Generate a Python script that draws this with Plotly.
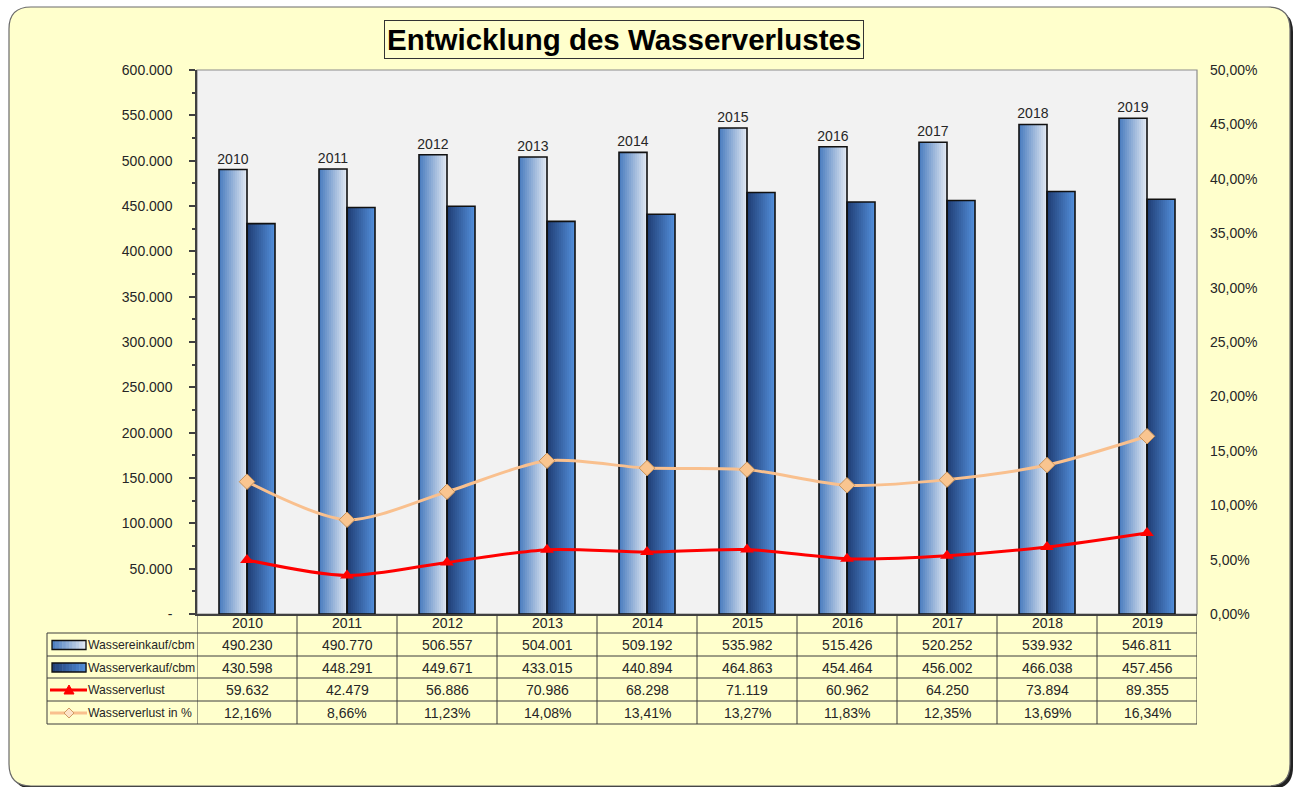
import plotly.graph_objects as go

# ---------------- data ----------------
years = ['2010', '2011', '2012', '2013', '2014', '2015', '2016', '2017', '2018', '2019']
einkauf = [490230, 490770, 506557, 504001, 509192, 535982, 515426, 520252, 539932, 546811]
verkauf = [430598, 448291, 449671, 433015, 440894, 464863, 454464, 456002, 466038, 457456]
verlust = [59632, 42479, 56886, 70986, 68298, 71119, 60962, 64250, 73894, 89355]
verlust_pct = [0.1216, 0.0866, 0.1123, 0.1408, 0.1341, 0.1327, 0.1183, 0.1235, 0.1369, 0.1634]
series_names = ['Wassereinkauf/cbm', 'Wasserverkauf/cbm', 'Wasserverlust', 'Wasserverlust in %']
left_tickvals = [0, 50000, 100000, 150000, 200000, 250000, 300000, 350000, 400000, 450000, 500000, 550000, 600000]
left_ticktext = ['-', '50.000', '100.000', '150.000', '200.000', '250.000', '300.000', '350.000',
                 '400.000', '450.000', '500.000', '550.000', '600.000']
right_tickvals = [0, 0.05, 0.10, 0.15, 0.20, 0.25, 0.30, 0.35, 0.40, 0.45, 0.50]
title_text = 'Entwicklung des Wasserverlustes'

# ---------------- geometry / style ----------------
W, H = 1296, 787
PL, PR, PT, PB = 197, 1197, 70, 614
FONT = 'Liberation Sans, Arial, sans-serif'
TXT = '#262626'


def px(x):
    return (x - PL) / (PR - PL)


def py(y):
    return (PB - y) / (PB - PT)


def lerp(c1, c2, t):
    return 'rgb(%d,%d,%d)' % tuple(round(a + (b - a) * t) for a, b in zip(c1, c2))


LIGHT = ((70, 122, 190), (228, 234, 243))
DARK = ((30, 60, 115), (84, 144, 220))
BW = 0.28
NS = 14

fig = go.Figure()

# gradient bars drawn as slices
for (vals, cols, off0) in [(einkauf, LIGHT, -BW), (verkauf, DARK, 0.0)]:
    sw = BW / NS
    for k in range(NS):
        fig.add_trace(go.Bar(
            x=years, y=vals, width=sw * 1.25 if k < NS - 1 else sw,
            offset=off0 + k * sw,
            marker=dict(color=lerp(cols[0], cols[1], (k + 0.5) / NS), line=dict(width=0)),
            showlegend=False, hoverinfo='skip'))

# outlines (with year labels over the purchase bars)
fig.add_trace(go.Bar(
    x=years, y=einkauf, width=BW, offset=-BW, name=series_names[0],
    marker=dict(color='rgba(0,0,0,0)', line=dict(color='#111111', width=1.6)),
    text=years, textposition='outside', cliponaxis=False, constraintext='none',
    textfont=dict(family=FONT, size=14, color=TXT), showlegend=False))
fig.add_trace(go.Bar(
    x=years, y=verkauf, width=BW, offset=0.0, name=series_names[1],
    marker=dict(color='rgba(0,0,0,0)', line=dict(color='#111111', width=1.6)),
    showlegend=False))

# lines
fig.add_trace(go.Scatter(
    x=years, y=verlust_pct, yaxis='y2', mode='lines+markers', name=series_names[3],
    line=dict(color='#F9C08E', width=3, shape='spline', smoothing=0.8),
    marker=dict(symbol='diamond', size=12, color='#F9C590', line=dict(color='#C8925A', width=1)),
    showlegend=False))
fig.add_trace(go.Scatter(
    x=years, y=verlust, mode='lines+markers', name=series_names[2],
    line=dict(color='#FF0000', width=3, shape='spline', smoothing=0.8),
    marker=dict(symbol='triangle-up', size=12, color='#FF0000'),
    showlegend=False))

shapes = []


def rounded(x0, y0, x1, y1, r):
    return ('M %f,%f L %f,%f Q %f,%f %f,%f L %f,%f Q %f,%f %f,%f L %f,%f Q %f,%f %f,%f L %f,%f Q %f,%f %f,%f Z' % (
        px(x0 + r), py(y0), px(x1 - r), py(y0), px(x1), py(y0), px(x1), py(y0 + r),
        px(x1), py(y1 - r), px(x1), py(y1), px(x1 - r), py(y1),
        px(x0 + r), py(y1), px(x0), py(y1), px(x0), py(y1 - r),
        px(x0), py(y0 + r), px(x0), py(y0), px(x0 + r), py(y0)))


# frame shadow + frame
shapes.append(dict(type='path', xref='paper', yref='paper', layer='below',
                   path=rounded(12, 10, 1293, 789, 22), fillcolor='#222222', line=dict(width=0)))
shapes.append(dict(type='path', xref='paper', yref='paper', layer='below',
                   path=rounded(9, 7, 1290, 786, 22), fillcolor='#FFFFCC',
                   line=dict(color='#6a6a6a', width=1.2)))
# plot area
shapes.append(dict(type='rect', xref='paper', yref='paper', layer='below',
                   x0=0, x1=1, y0=0, y1=1, fillcolor='#F2F2F2', line=dict(color='#8c8c8c', width=1.2)))

# ---------- data table ----------
row_lines = [633, 656, 678, 701, 724]
row_centers = [623, 645, 667.5, 690, 713]
LC = '#3c3c3c'
for yy in row_lines:
    shapes.append(dict(type='line', xref='paper', yref='paper', x0=px(47), x1=px(PR),
                       y0=py(yy), y1=py(yy), line=dict(color=LC, width=1)))
shapes.append(dict(type='line', xref='paper', yref='paper', x0=px(47), x1=px(47),
                   y0=py(633), y1=py(724), line=dict(color=LC, width=1)))
for i in range(len(years) + 1):
    shapes.append(dict(type='line', xref='x', yref='paper', x0=i - 0.5, x1=i - 0.5,
                       y0=py(PB), y1=py(724), line=dict(color=LC, width=1)))

annotations = []
fmt_int = lambda v: f'{v:,}'.replace(',', '.')
fmt_pct = lambda p: f'{p * 100:.2f}%'.replace('.', ',')
rows = [years, [fmt_int(v) for v in einkauf], [fmt_int(v) for v in verkauf],
        [fmt_int(v) for v in verlust], [fmt_pct(v) for v in verlust_pct]]
for r, cells in enumerate(rows):
    for i, txt in enumerate(cells):
        annotations.append(dict(x=i, xref='x', y=py(row_centers[r]), yref='paper', text=txt,
                                showarrow=False, xanchor='center', yanchor='middle',
                                font=dict(family=FONT, size=14, color=TXT)))
# legend labels
for r, name in enumerate(series_names):
    annotations.append(dict(x=px(86), xref='paper', y=py(row_centers[r + 1]), yref='paper',
                            text=name, showarrow=False, xanchor='left', yanchor='middle',
                            font=dict(family=FONT, size=12.2, color=TXT)))

# legend keys: gradient boxes
for (cols, yc) in [(LIGHT, row_centers[1]), (DARK, row_centers[2])]:
    x0, x1, h = 52, 86, 9
    n = 10
    for k in range(n):
        a = x0 + (x1 - x0) * k / n
        b = x0 + (x1 - x0) * (k + 1) / n
        shapes.append(dict(type='rect', xref='paper', yref='paper', x0=px(a), x1=px(b + 0.5),
                           y0=py(yc - h / 2), y1=py(yc + h / 2),
                           fillcolor=lerp(cols[0], cols[1], (k + 0.5) / n), line=dict(width=0)))
    shapes.append(dict(type='rect', xref='paper', yref='paper', x0=px(x0), x1=px(x1),
                       y0=py(yc - h / 2), y1=py(yc + h / 2), line=dict(color='#111111', width=1.3)))
# legend keys: lines
shapes.append(dict(type='line', xref='paper', yref='paper', x0=px(50), x1=px(87),
                   y0=py(row_centers[3]), y1=py(row_centers[3]), line=dict(color='#FF0000', width=3)))
shapes.append(dict(type='line', xref='paper', yref='paper', x0=px(50), x1=px(87),
                   y0=py(row_centers[4]), y1=py(row_centers[4]), line=dict(color='#F9C08E', width=3)))
tc = row_centers[3]
shapes.append(dict(type='path', xref='paper', yref='paper',
                   path='M %f,%f L %f,%f L %f,%f Z' % (px(64), py(tc + 4), px(74), py(tc + 4), px(69), py(tc - 5)),
                   fillcolor='#FF0000', line=dict(color='#FF0000', width=1)))
dc = row_centers[4]
shapes.append(dict(type='path', xref='paper', yref='paper',
                   path='M %f,%f L %f,%f L %f,%f L %f,%f Z' % (px(64), py(dc), px(69), py(dc - 5),
                                                                px(74), py(dc), px(69), py(dc + 5)),
                   fillcolor='#FDE3C8', line=dict(color='#D09A62', width=1)))

# title
annotations.append(dict(x=px(624), xref='paper', y=py(39.5), yref='paper', text='<b>%s</b>' % title_text,
                        showarrow=False, xanchor='center', yanchor='middle',
                        font=dict(family='Liberation Sans, Arial, sans-serif', size=29.5, color='#000000'),
                        bgcolor='#FFFFCC', bordercolor='#333333', borderwidth=1, borderpad=2))

fig.update_layout(
    width=W, height=H,
    margin=dict(l=PL, r=W - PR, t=PT, b=H - PB, pad=0),
    paper_bgcolor='#FFFFFF', plot_bgcolor='rgba(0,0,0,0)',
    barmode='overlay', separators=',.',
    font=dict(family=FONT, size=14, color=TXT),
    shapes=shapes, annotations=annotations,
    xaxis=dict(type='category', range=[-0.5, 9.5], showticklabels=False, ticks='',
               showline=True, linecolor='#404040', linewidth=1.5, showgrid=False, zeroline=False,
               fixedrange=True),
    yaxis=dict(range=[0, 600000], tickmode='array', tickvals=left_tickvals, ticktext=left_ticktext,
               showline=True, linecolor='#404040', linewidth=1.5, ticks='outside', ticklen=6,
               tickcolor='#404040', tickwidth=1.5, ticklabelstandoff=14, showgrid=False, zeroline=False,
               tickfont=dict(family=FONT, size=14, color=TXT),
               minor=dict(ticks='outside', ticklen=3, tickcolor='#404040', dtick=25000, showgrid=False)),
    yaxis2=dict(range=[0, 0.5], overlaying='y', side='right', tickmode='array', tickvals=right_tickvals,
                tickformat='.2%', showline=False, ticks='', showgrid=False, zeroline=False,
                ticklabelstandoff=12, tickfont=dict(family=FONT, size=14, color=TXT)),
)

fig.write_html('out.html', config={'displayModeBar': False},
               post_script="document.body.style.margin='0px';")
